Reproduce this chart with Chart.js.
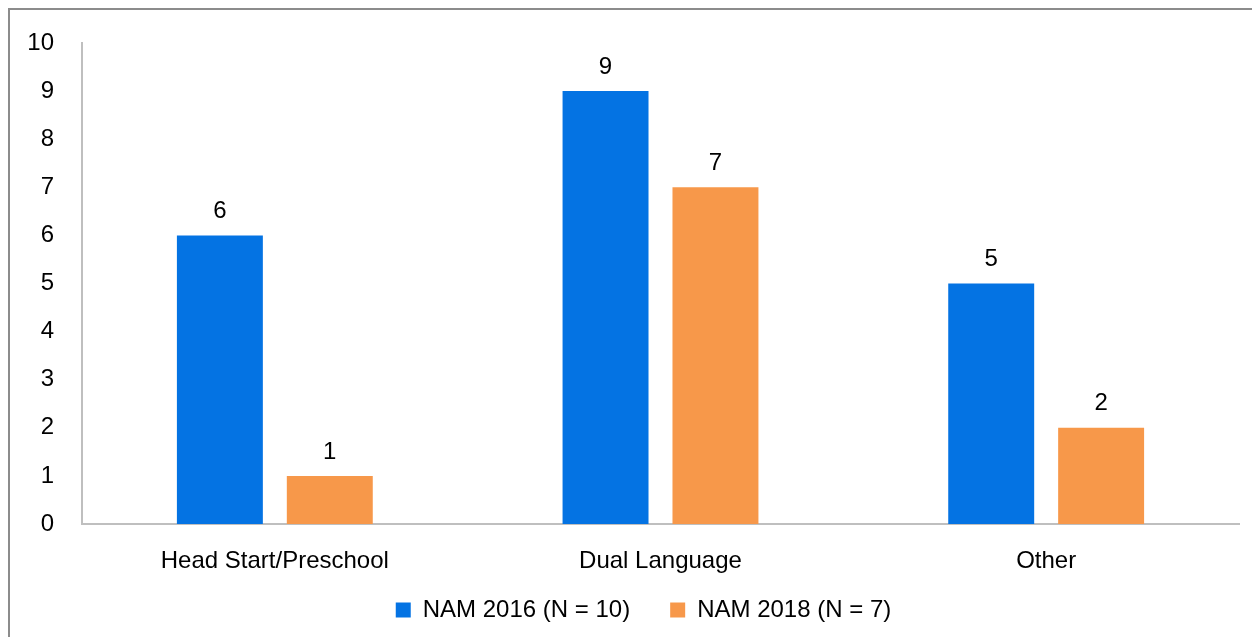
<!DOCTYPE html>
<html>
<head>
<meta charset="utf-8">
<script src="https://cdn.jsdelivr.net/npm/chart.js@4/dist/chart.umd.min.js"></script>
<style>
  html, body { margin: 0; padding: 0; background: #ffffff; }
  #wrap { width: 1252px; height: 637px; position: relative; }
</style>
</head>
<body>
<div id="wrap"><canvas id="c" width="1252" height="637"></canvas></div>
<script>
const categories = ["Head Start/Preschool", "Dual Language", "Other"];
const nam2016 = [6, 9, 5];
const nam2018 = [1, 7, 2];
const seriesLabels = ["NAM 2016 (N = 10)", "NAM 2018 (N = 7)"];
const yTicks = [0, 1, 2, 3, 4, 5, 6, 7, 8, 9, 10];

const FONT = "'Liberation Sans', Arial, sans-serif";

const framePlugin = {
  id: 'frame',
  beforeDraw(chart) {
    const ctx = chart.ctx;
    ctx.save();
    ctx.fillStyle = '#ffffff';
    ctx.fillRect(0, 0, chart.width, chart.height);
    ctx.strokeStyle = '#8c8c8c';
    ctx.lineWidth = 2;
    ctx.beginPath();
    ctx.moveTo(9, chart.height + 5);
    ctx.lineTo(9, 9);
    ctx.lineTo(chart.width + 5, 9);
    ctx.stroke();
    ctx.restore();
  }
};

const layoutTweak = {
  id: 'layoutTweak',
  afterLayout(chart) {
    if (chart.legend) {
      chart.legend.left += 24;
      chart.legend.right += 24;
    }
    // let the category labels draw below the shortened axis box without clipping
    chart.scales.x.bottom += 40;
  }
};

const valueLabels = {
  id: 'valueLabels',
  afterDatasetsDraw(chart) {
    const ctx = chart.ctx;
    ctx.save();
    ctx.fillStyle = '#000000';
    ctx.font = '24px ' + FONT;
    ctx.textAlign = 'center';
    ctx.textBaseline = 'bottom';
    chart.data.datasets.forEach((ds, i) => {
      const meta = chart.getDatasetMeta(i);
      meta.data.forEach((bar, j) => {
        ctx.fillText(String(ds.data[j]), bar.x, bar.y - 12);
      });
    });
    ctx.restore();
  }
};

new Chart(document.getElementById('c'), {
  type: 'bar',
  data: {
    labels: categories,
    datasets: [
      { label: seriesLabels[0], data: nam2016, backgroundColor: '#0473e3',
        categoryPercentage: 0.57, barPercentage: 0.782 },
      { label: seriesLabels[1], data: nam2018, backgroundColor: '#f7984a',
        categoryPercentage: 0.57, barPercentage: 0.782 }
    ]
  },
  options: {
    responsive: false,
    animation: false,
    events: [],
    layout: { padding: { left: 0, right: 13, top: 43, bottom: 5 } },
    plugins: {
      legend: {
        position: 'bottom',
        labels: {
          boxWidth: 15, boxHeight: 15, padding: 40,
          color: '#000000',
          font: { family: FONT, size: 24 }
        }
      },
      tooltip: { enabled: false }
    },
    scales: {
      x: {
        afterFit(scale) { scale.height = 34; },
        grid: { display: false, drawTicks: false },
        border: { color: '#bfbfbf', width: 2 },
        ticks: { color: '#000000', font: { family: FONT, size: 24 }, padding: 23 }
      },
      y: {
        min: 0, max: 10,
        afterFit(scale) { scale.width = 82; },
        afterBuildTicks(scale) { scale.ticks = yTicks.map(v => ({ value: v })); },
        grid: { display: false, drawTicks: false },
        border: { color: '#bfbfbf', width: 2 },
        ticks: { color: '#000000', font: { family: FONT, size: 24 }, padding: 28 }
      }
    }
  },
  plugins: [framePlugin, layoutTweak, valueLabels]
});
</script>
</body>
</html>
